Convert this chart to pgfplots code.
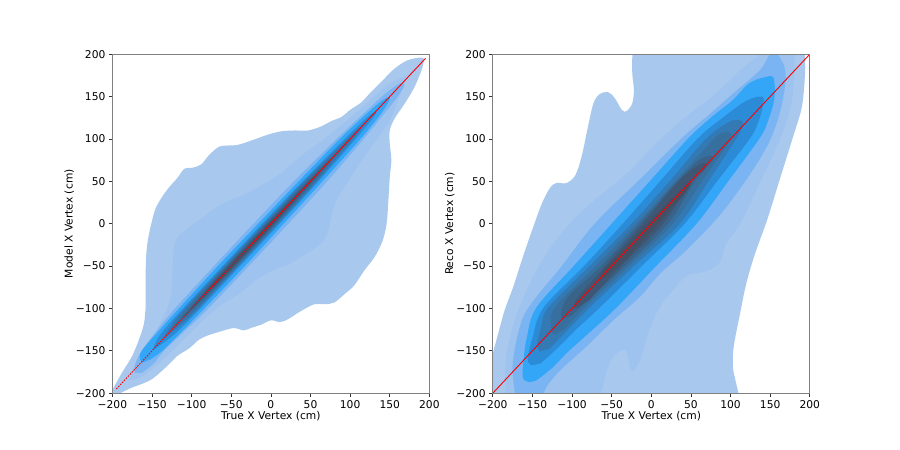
\documentclass[border=0pt]{standalone}
\usepackage{fontspec}
\setmainfont{DejaVu Sans}
\usepackage{pgfplots}
\pgfplotsset{compat=1.18}

\definecolor{kA}{HTML}{A9C8EE}
\definecolor{kB}{HTML}{9DC3EE}
\definecolor{kC}{HTML}{7AB4F2}
\definecolor{kD}{HTML}{33A6F8}
\definecolor{kE}{HTML}{2C8BD6}
\definecolor{kF}{HTML}{337AB5}
\definecolor{kG}{HTML}{376F9F}
\definecolor{kH}{HTML}{3A6389}
\definecolor{kI}{HTML}{3E5775}
\definecolor{kJ}{HTML}{435064}

\pgfplotsset{
  vertex/.style={
    scale only axis, width=317pt, height=339pt,
    xmin=-200, xmax=200, ymin=-200, ymax=200,
    xtick={-200,-150,...,200}, ytick={-200,-150,...,200},
    xticklabels={−200,−150,−100,−50,0,50,100,150,200},
    yticklabels={−200,−150,−100,−50,0,50,100,150,200},
    tick align=outside, tick pos=left,
    major tick length=3.5pt,
    tick style={black!80, line width=0.8pt},
    axis line style={black!50, line width=1.2pt},
    ticklabel style={font=\fontsize{10.7}{12}\selectfont, text=black},
    label style={font=\fontsize{10.7}{12}\selectfont, text=black},
    xlabel={True X Vertex (cm)},
    xlabel style={yshift=3.5pt},
    ylabel style={yshift=-5pt},
    axis on top,
  },
  contour/.style={draw=none, fill=#1, smooth, tension=0.55, mark=none, forget plot},
}

\begin{document}
\begin{tikzpicture}[x=1pt, y=1pt]
\fill[white] (0,0) rectangle (900,450);

\begin{axis}[vertex, at={(112.4pt,56.8pt)}, ylabel={Model X Vertex (cm)}]
\addplot[contour=kA] coordinates {
(-203,-200) (-200,-196) (-188,-176) (-175,-156) (-165,-133) (-160,-117) (-158,-97) (-158,-85)
(-158,-57) (-157,-33) (-154,-13) (-147,14) (-141,26) (-131,40) (-118,54) (-109,65) (-99,66)
(-88,70) (-78,81) (-67,90) (-59,92) (-42,93) (-25,98) (-4,105) (13,109) (30,110) (47,110)
(64,115) (76,121) (89,126) (101,135) (114,143) (124,153) (139,167) (156,183) (173,193) (190,196)
(193,193) (190,181) (181,161) (169,142) (156,124) (150,110) (150,94) (152,75) (150,55) (148,24)
(146,0) (141,-20) (131,-39) (118,-55) (105,-73) (93,-83) (80,-93) (68,-95) (55,-95) (38,-103)
(21,-113) (11,-116) (0,-114) (-12,-119) (-25,-123) (-35,-126) (-46,-123) (-63,-127) (-80,-132)
(-91,-137) (-103,-147) (-118,-156) (-131,-168) (-148,-182) (-160,-188) (-177,-194) (-190,-200) (-203,-206)
} -- cycle;
\addplot[contour=kB] coordinates {
(-180,-185) (-173,-172) (-159,-150) (-144,-125) (-127,-90) (-124,-51) (-123,-35) (-117,-15) (-85,8) (-64,22)
(-35,34) (-14,44) (12,59) (37,79) (66,99) (91,118) (121,142) (146,163) (165,172) (171,173)
(168,162) (163,152) (150,122) (130,95) (112,71) (96,48) (83,28) (77,12) (70,-15) (58,-27) (45,-35)
(24,-47) (3,-55) (-18,-66) (-39,-82) (-60,-94) (-81,-110) (-102,-129) (-123,-149) (-144,-167) (-165,-182)
} -- cycle;
\addplot[contour=kC] coordinates {
(-171,-176) (-172,-168) (-163,-150) (-143,-125) (-121,-100) (-72,-50) (-22,0) (29,50) (83,100) (117,130)
(140,150) (158,163) (165,166) (168,163) (160,150) (143,130) (117,100) (71,50) (22,0) (-28,-50) (-79,-100)
(-107,-125) (-135,-150) (-148,-165) (-163,-176)
} -- cycle;
\addplot[contour=kD] coordinates {
(-162,-164) (-165,-160) (-163,-150) (-140,-125) (-116,-100) (-67,-50) (-16,0) (35,50) (87,100) (121,130)
(140,145) (148,149) (150,149) (149,145) (139,130) (113,100) (65,50) (16,0) (-33,-50) (-84,-100)
(-110,-125) (-137,-150) (-152,-160)
} -- cycle;
\addplot[contour=kE] coordinates {
(-149,-148) (-139,-130) (-111,-100) (-61,-50) (-11,0) (40,50) (93,100) (121,125) (131,132)
(133,132) (129,125) (107,100) (60,50) (11,0) (-39,-50) (-89,-100) (-121,-130) (-147,-148)
} -- cycle;
\addplot[contour=kF] coordinates {
(-136,-135) (-122,-115) (-108.5,-100) (-59,-50) (-9,0) (42,50) (96,100) (114,115)
(116,115) (104,100) (58,50) (9,0) (-41,-50) (-91.5,-100) (-108,-115) (-134,-135)
} -- cycle;
\addplot[contour=kG] coordinates {
(-126,-125) (-106,-100) (-57,-50) (-7,0) (44,50) (83,85) (99,100)
(101,100) (87,85) (56,50) (7,0) (-43,-50) (-94,-100) (-124,-125)
} -- cycle;
\addplot[contour=kH] coordinates {
(-111,-110) (-84,-80) (-55.5,-50) (-5.5,0) (46.5,50) (74,75)
(76,75) (53.5,50) (5.5,0) (-44.5,-50) (-76,-80) (-109,-110)
} -- cycle;
\addplot[contour=kI] coordinates {
(-101,-100) (-73,-70) (-43.5,-40) (-3.5,0) (38,40) (54,55)
(56,55) (42,40) (3.5,0) (-36.5,-40) (-67,-70) (-99,-100)
} -- cycle;
\addplot[contour=kJ] coordinates {
(-85.5,-85) (-52,-50) (-2,0) (29.5,30) (30.5,30) (2,0) (-48,-50) (-84.5,-85)
} -- cycle;
\addplot[red, line width=0.9pt, dash pattern=on 1.6pt off 1.2pt, mark=none] coordinates {(-195,-195) (-20,-20)};
\addplot[red, line width=0.9pt, mark=none] coordinates {(-20,-20) (195,195)};
\end{axis}

\begin{axis}[vertex, at={(492.8pt,56.8pt)}, ylabel={Reco X Vertex (cm)}]
\addplot[contour=kA] coordinates {
(-215,-215) (-203,-165) (-200,-153) (-193,-129) (-185,-102) (-174,-74) (-162,-39) (-149,-4) (-138,24)
(-128,42) (-120,48) (-107,48) (-96,57) (-88,79) (-80,114) (-73,142) (-65,153) (-54,155) (-46,148)
(-37,134) (-31,133) (-24,142) (-22,158) (-24,177) (-24,200) (-24,215) (60,225) (194,215) (194,200)
(194,177) (190,138) (179,103) (162,52) (146,4) (131,-35) (120,-70) (112,-106) (104,-145) (103,-169)
(106,-184) (110,-200) (113,-215)
} -- cycle;
\addplot[contour=kB] coordinates {
(-186,-215) (-184,-200) (-183,-157) (-172,-113) (-153,-70) (-132,-35) (-107,-4) (-86,16) (-61,36)
(-31,59) (-6,83) (19,106) (49,130) (82,154) (112,181) (137,200) (150,215) (178,215) (180,177) (176,138)
(162,99) (137,48) (112,0) (95,-23) (85,-47) (66,-57) (45,-61) (28,-78) (11,-98) (-4,-129) (-14,-161)
(-25,-174) (-31,-151) (-37,-149) (-48,-157) (-56,-173) (-63,-200) (-66,-215)
} -- cycle;
\addplot[contour=kC] coordinates {
(-172,-200) (-175,-168) (-168,-129) (-155,-99) (-113,-50) (-71.5,0) (-17,50) (37.5,100) (72,128)
(105,155) (137,181) (150,200) (159,200) (168,185) (169,165) (162,130) (148,95) (125,59) (95,20) (70,-7)
(40,-35) (11,-59) (-14,-86) (-48,-114) (-82,-145) (-115,-173) (-132,-192) (-136,-200) (-150,-215) (-172,-215)
} -- cycle;
\addplot[contour=kD] coordinates {
(-153,-187) (-162,-182) (-161,-160) (-157,-134) (-145,-99) (-98,-50) (-50,0) (-2,50) (46,100) (75,125)
(103,146) (124,166) (149,174) (155,169) (155,146) (146,118) (136,100) (97,50) (57,0) (6,-50) (-44,-99)
(-80,-130) (-105,-151) (-125,-170) (-145,-185)
} -- cycle;
\addplot[contour=kE] coordinates {
(-151,-167) (-156,-160) (-150,-135) (-136,-99) (-85,-50) (-36,0) (11,50) (58,100) (90,125) (120,145)
(140,150) (141,140) (135,120) (124,100) (83,50) (42,0) (-12,-50) (-65,-99) (-95,-125) (-122,-150) (-140,-165)
} -- cycle;
\addplot[contour=kF] coordinates {
(-141,-151) (-144,-142) (-139,-122) (-130,-99) (-78,-50) (-25,0) (23,50) (69,100) (98,120) (111,122.5)
(116,118) (112,108) (107,100) (72,50) (36,0) (-22,-50) (-78,-99) (-105,-125) (-128,-147)
} -- cycle;
\addplot[contour=kG] coordinates {
(-122,-131) (-126,-125) (-122,-99) (-70,-50) (-19,0) (30,50) (79,100) (90,107) (95,108)
(100,100) (64,50) (27,0) (-28,-50) (-84,-99) (-110,-125)
} -- cycle;
\addplot[contour=kH] coordinates {
(-112,-113) (-114,-106) (-104,-85) (-63,-50) (-15,0) (33,50) (60,75) (75,80)
(77,74) (55,50) (21,0) (-33,-50) (-74,-85) (-100,-108)
} -- cycle;
\addplot[contour=kI] coordinates {
(-95,-100) (-95,-90) (-58,-50) (-11,0) (34,50) (58,68) (68,72) (67,64) (50,50) (15,0) (-38,-50) (-78,-90)
} -- cycle;
\addplot[contour=kJ] coordinates {
(-65,-68) (-60,-55) (-43,-38) (-5,0) (26,30) (50,50) (42,35) (27,20) (9,0) (-28,-38) (-48,-55)
} -- cycle;
\addplot[red, line width=0.9pt, mark=none] coordinates {(-200,-200) (200,200)};
\end{axis}
\end{tikzpicture}
\end{document}
